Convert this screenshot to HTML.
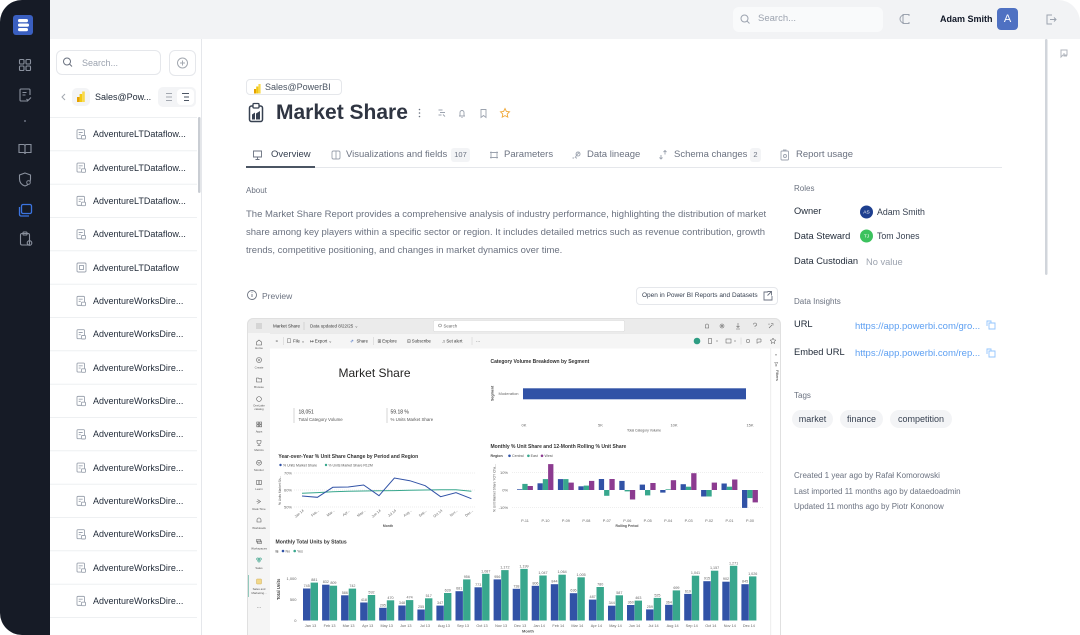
<!DOCTYPE html>
<html><head><meta charset="utf-8">
<style>
*{box-sizing:border-box;margin:0;padding:0}
body{width:1080px;height:635px;overflow:hidden;background:#fff;font-family:"Liberation Sans",Arial,sans-serif;position:relative;color:#1f2937}
.a{position:absolute}
.t{position:absolute;white-space:nowrap;line-height:14px}
svg text{font-family:"Liberation Sans",Arial,sans-serif}
</style></head><body>

<!-- backgrounds -->
<div class="a" style="left:0;top:0;width:50px;height:635px;background:#161b26;border-radius:22px 0 0 22px"></div>
<div class="a" style="left:50px;top:0;width:1030px;height:39px;background:#f2f3f5;border-top-right-radius:22px"></div>
<div class="a" style="left:201px;top:39px;width:1px;height:596px;background:#e5e7eb"></div>

<!-- top bar -->
<div class="a" style="left:733px;top:7px;width:150px;height:25px;background:#f9fafb;border-radius:6px"></div>
<div class="t" style="left:758px;top:12px;font-size:9.5px;color:#9ca3af">Search...</div>
<div class="t" style="left:940px;top:12px;font-size:9px;font-weight:bold;color:#111827">Adam Smith</div>
<div class="a" style="left:997px;top:8px;width:21px;height:22px;background:#4f71c2;border-radius:4px;color:#fff;font-size:11px;line-height:22px;text-align:center">A</div>

<!-- left panel -->
<div class="a" style="left:56px;top:50px;width:105px;height:25px;border:1px solid #e5e7eb;border-radius:6px"></div>
<div class="t" style="left:82px;top:55.5px;font-size:9px;color:#9ca3af">Search...</div>
<div class="a" style="left:169px;top:50px;width:27px;height:26px;border:1px solid #e5e7eb;border-radius:6px"></div>
<div class="a" style="left:72px;top:88px;width:18px;height:18px;background:#f3f4f6;border-radius:5px"></div>
<div class="t" style="left:95px;top:90px;font-size:9px;color:#1f2937">Sales@Pow...</div>
<div class="a" style="left:158px;top:87px;width:38px;height:20px;background:#f3f4f6;border-radius:5px"></div>
<div class="a" style="left:177px;top:89px;width:17px;height:16px;background:#fff;border-radius:4px"></div>

<div class="t" style="left:93px;top:127.2px;font-size:9px">AdventureLTDataflow...</div>
<div class="t" style="left:93px;top:160.5px;font-size:9px">AdventureLTDataflow...</div>
<div class="t" style="left:93px;top:193.8px;font-size:9px">AdventureLTDataflow...</div>
<div class="t" style="left:93px;top:227.2px;font-size:9px">AdventureLTDataflow...</div>
<div class="t" style="left:93px;top:260.5px;font-size:9px">AdventureLTDataflow</div>
<div class="t" style="left:93px;top:293.8px;font-size:9px">AdventureWorksDire...</div>
<div class="t" style="left:93px;top:327.2px;font-size:9px">AdventureWorksDire...</div>
<div class="t" style="left:93px;top:360.5px;font-size:9px">AdventureWorksDire...</div>
<div class="t" style="left:93px;top:393.8px;font-size:9px">AdventureWorksDire...</div>
<div class="t" style="left:93px;top:427.2px;font-size:9px">AdventureWorksDire...</div>
<div class="t" style="left:93px;top:460.5px;font-size:9px">AdventureWorksDire...</div>
<div class="t" style="left:93px;top:493.8px;font-size:9px">AdventureWorksDire...</div>
<div class="t" style="left:93px;top:527.2px;font-size:9px">AdventureWorksDire...</div>
<div class="t" style="left:93px;top:560.5px;font-size:9px">AdventureWorksDire...</div>
<div class="t" style="left:93px;top:593.8px;font-size:9px">AdventureWorksDire...</div>

<!-- main header -->
<div class="a" style="left:246px;top:79px;width:96px;height:16px;border:1px solid #e5e7eb;border-radius:4px"></div>
<div class="t" style="left:265px;top:80px;font-size:9px;color:#4b5563">Sales@PowerBI</div>
<div class="t" style="left:276px;top:101px;font-size:21px;line-height:24px;font-weight:bold;color:#2f3542">Market Share</div>

<div class="t" style="left:271px;top:148px;font-size:9.5px;color:#374151">Overview</div>
<div class="t" style="left:346px;top:148px;font-size:9.5px;color:#6b7280">Visualizations and fields</div>
<div class="a" style="left:451px;top:148px;width:19px;height:14px;background:#f3f4f6;border-radius:3px;font-size:7.5px;line-height:14px;text-align:center;color:#6b7280">107</div>
<div class="t" style="left:504px;top:148px;font-size:9.5px;color:#6b7280">Parameters</div>
<div class="t" style="left:587px;top:148px;font-size:9.5px;color:#6b7280">Data lineage</div>
<div class="t" style="left:674px;top:148px;font-size:9.5px;color:#6b7280">Schema changes</div>
<div class="a" style="left:750px;top:148px;width:11px;height:14px;background:#f3f4f6;border-radius:3px;font-size:7.5px;line-height:14px;text-align:center;color:#6b7280">2</div>
<div class="t" style="left:796px;top:148px;font-size:9.5px;color:#6b7280">Report usage</div>
<div class="a" style="left:246px;top:167px;width:756px;height:1px;background:#e5e7eb"></div>
<div class="a" style="left:246px;top:165.5px;width:69px;height:2px;background:#4b5563"></div>

<div class="t" style="left:246px;top:184px;font-size:8px;color:#6b7280">About</div>
<div class="t" style="left:246px;top:208px;font-size:9.5px;color:#6b7280">The Market Share Report provides a comprehensive analysis of industry performance, highlighting the distribution of market</div>
<div class="t" style="left:246px;top:226px;font-size:9.5px;color:#6b7280">share among key players within a specific sector or region. It includes detailed metrics such as revenue contribution, growth</div>
<div class="t" style="left:246px;top:244px;font-size:9.5px;color:#6b7280">trends, competitive positioning, and changes in market dynamics over time.</div>

<div class="t" style="left:262px;top:288.5px;font-size:8.5px;color:#6b7280">Preview</div>
<div class="a" style="left:636px;top:287px;width:142px;height:18px;border:1px solid #e5e7eb;border-radius:4px"></div>
<div class="t" style="left:642px;top:289px;font-size:6.5px;color:#374151">Open in Power BI Reports and Datasets</div>

<!-- right panel -->
<div class="t" style="left:794px;top:182px;font-size:8px;color:#6b7280">Roles</div>
<div class="t" style="left:794px;top:203.5px;font-size:9.3px">Owner</div>
<div class="t" style="left:877px;top:205px;font-size:8.8px;color:#374151">Adam Smith</div>
<div class="t" style="left:794px;top:229px;font-size:9.3px">Data Steward</div>
<div class="t" style="left:877px;top:229px;font-size:8.8px;color:#374151">Tom Jones</div>
<div class="t" style="left:794px;top:254px;font-size:9.3px">Data Custodian</div>
<div class="t" style="left:866px;top:255px;font-size:9.3px;color:#9ca3af">No value</div>
<div class="t" style="left:794px;top:295.3px;font-size:8px;color:#6b7280">Data Insights</div>
<div class="t" style="left:794px;top:317px;font-size:9.3px">URL</div>
<div class="t" style="left:855px;top:319.5px;font-size:9.5px;color:#5ea0f2">https://app.powerbi.com/gro...</div>
<div class="t" style="left:794px;top:345px;font-size:9.3px">Embed URL</div>
<div class="t" style="left:855px;top:347px;font-size:9.5px;color:#5ea0f2">https://app.powerbi.com/rep...</div>
<div class="t" style="left:794px;top:388.7px;font-size:8px;color:#6b7280">Tags</div>
<div class="a" style="left:792px;top:410px;width:41px;height:18px;background:#f3f4f6;border-radius:9px;font-size:9px;line-height:18px;text-align:center;color:#374151">market</div>
<div class="a" style="left:840px;top:410px;width:43px;height:18px;background:#f3f4f6;border-radius:9px;font-size:9px;line-height:18px;text-align:center;color:#374151">finance</div>
<div class="a" style="left:890px;top:410px;width:62px;height:18px;background:#f3f4f6;border-radius:9px;font-size:9px;line-height:18px;text-align:center;color:#374151">competition</div>
<div class="t" style="left:794px;top:468.7px;font-size:8px;color:#6b7280">Created 1 year ago by Rafał Komorowski</div>
<div class="t" style="left:794px;top:484.7px;font-size:8px;color:#6b7280">Last imported 11 months ago by dataedoadmin</div>
<div class="t" style="left:794px;top:499.7px;font-size:8px;color:#6b7280">Updated 11 months ago by Piotr Kononow</div>

<!-- full page svg: icons, lines, preview -->
<svg class="a" style="left:0;top:0" width="1080" height="635" viewBox="0 0 1080 635">
<!-- sidebar -->
<rect x="13" y="15" width="20" height="20" rx="3" fill="#3a5fc0"/>
<rect x="18" y="19" width="10" height="3.2" rx="1.6" fill="#fff"/>
<rect x="18" y="23.5" width="11" height="3.2" rx="1.6" fill="#fff"/>
<rect x="18" y="28" width="10" height="3.2" rx="1.6" fill="#fff"/>
<g fill="none" stroke="#8a919e" stroke-width="1.1">
<rect x="19.5" y="59.5" width="4.5" height="4.5" rx="1"/><rect x="26" y="59.5" width="4.5" height="4.5" rx="1"/>
<rect x="19.5" y="66" width="4.5" height="4.5" rx="1"/><rect x="26" y="66" width="4.5" height="4.5" rx="1"/>
<path d="M28 101 h-7 a1 1 0 0 1 -1 -1 v-10 a1 1 0 0 1 1 -1 h8 a1 1 0 0 1 1 1 v5"/><path d="M22.5 92.5 h4 M22.5 95 h3"/><path d="M26.5 99 l1.5 1.5 l3 -3"/>
<path d="M19 144.5 h4.5 a1.5 1.5 0 0 1 1.5 1.5 v8 a1.5 1.5 0 0 0 -1.5 -1.5 h-4.5 z M31 144.5 h-4.5 a1.5 1.5 0 0 0 -1.5 1.5 v8 a1.5 1.5 0 0 1 1.5 -1.5 h4.5 z"/>
<path d="M25 173 l5.5 2 v4 c0 4 -2.5 6 -5.5 7 c-3 -1 -5.5 -3 -5.5 -7 v-4 z"/>
<rect x="20.5" y="233.5" width="9" height="11.5" rx="1.5"/><rect x="23" y="232" width="4" height="3" rx="0.8"/><circle cx="29.5" cy="243" r="2.3"/>
</g>
<circle cx="28.5" cy="182.5" r="1.8" fill="#161b26" stroke="#8a919e" stroke-width="0.9"/>
<circle cx="25" cy="121" r="1" fill="#6b7280"/>
<g fill="none" stroke="#3b74e0" stroke-width="1.3"><rect x="21.5" y="204.5" width="10" height="9" rx="1.5"/><path d="M19.5 207 v7.5 a1.5 1.5 0 0 0 1.5 1.5 h8"/></g>

<!-- topbar icons -->
<g fill="none" stroke="#9ca3af" stroke-width="1">
<circle cx="744.5" cy="18.5" r="3.5"/><path d="M747 21 l2.5 2.5"/>
<path d="M909 16 v-1.5 h-6 v9 h6 v-1.5 M904 15 a4 4 0 0 0 0 8"/>
<path d="M1052 15 h-5 v9 h5 M1050 19.5 h6 M1054 17.5 l2 2 l-2 2"/>
<path d="M1061 50 h6 v5 h-4 l-2 2 z M1064 53 v3 h3" stroke="#b0b5bd"/>
</g>
<rect x="1045" y="39" width="2.5" height="236" rx="1.2" fill="#d1d5db"/>

<!-- left panel icons -->
<g fill="none" stroke="#6b7280" stroke-width="1"><circle cx="67" cy="61.5" r="3.5"/><path d="M69.5 64 l2.5 2.5"/></g>
<g fill="none" stroke="#a3a8b0" stroke-width="1"><circle cx="182.5" cy="63" r="5"/><path d="M182.5 60.5 v5 M180 63 h5"/><path d="M65 94 l-3 3 l3 3"/>
<path d="M166 93.5 h6 M166 97 h6 M166 100.5 h6"/></g>
<g fill="none" stroke="#4b5563" stroke-width="1"><path d="M182 93.5 h7 M184 97 h5 M184 100.5 h5"/></g>
<rect x="77" y="97" width="2.6" height="5" fill="#e6a100"/><rect x="79.6" y="94" width="2.6" height="8" fill="#f2c811"/><rect x="82.2" y="91.5" width="2.6" height="10.5" fill="#f8d84a"/>
<rect x="198" y="117" width="2.5" height="76" rx="1.2" fill="#c9cdd3"/>
<g stroke="#eef0f2" stroke-width="1">
<path d="M50 117.5 H197 M50 150.8 H197 M50 184.2 H197 M50 217.5 H197 M50 250.8 H197 M50 284.2 H197 M50 317.5 H197 M50 350.8 H197 M50 384.2 H197 M50 417.5 H197 M50 450.8 H197 M50 484.2 H197 M50 517.5 H197 M50 550.8 H197 M50 584.2 H197 M50 617.5 H197"/>
</g>
<g fill="none" stroke="#9ca3af" stroke-width="0.9">
<g id="li"><rect x="77" y="129.7" width="7.5" height="9" rx="1"/><path d="M78.7 132.5 h4 M78.7 134.7 h2"/><rect x="81.5" y="135.5" width="4" height="3.5" rx="0.6" fill="#fff"/></g>
<use href="#li" y="33.33"/><use href="#li" y="66.67"/><use href="#li" y="100"/>
<rect x="77" y="263" width="9" height="9" rx="1.2"/><rect x="79.5" y="265.5" width="4" height="4"/>
<use href="#li" y="166.67"/><use href="#li" y="200"/><use href="#li" y="233.33"/><use href="#li" y="266.67"/><use href="#li" y="300"/>
<use href="#li" y="333.33"/><use href="#li" y="366.67"/><use href="#li" y="400"/><use href="#li" y="433.33"/><use href="#li" y="466.67"/>
</g>

<!-- main icons -->
<rect x="254" y="89" width="2.2" height="4.5" fill="#e6a100"/><rect x="256.2" y="86.5" width="2.2" height="7" fill="#f2c811"/><rect x="258.4" y="84" width="2.2" height="9.5" fill="#f8d84a"/>
<g fill="none" stroke="#374151" stroke-width="1.5"><rect x="249.5" y="106" width="13" height="15.5" rx="2"/></g>
<rect x="253" y="103.5" width="6" height="4.5" rx="1" fill="#fff" stroke="#374151" stroke-width="1.3"/>
<path d="M252 119.5 v-5 l3 -2 v7 z M256 119.5 v-6 l4 -2.5 v8.5 z" fill="#374151"/>
<g fill="#6b7280"><circle cx="419.5" cy="109.5" r="0.8"/><circle cx="419.5" cy="113" r="0.8"/><circle cx="419.5" cy="116.5" r="0.8"/></g>
<g fill="none" stroke="#9ca3af" stroke-width="0.9">
<path d="M438.5 110 h4 M440 112.5 h5 M438.5 115 h3 M443 114.5 l2 2"/>
<path d="M459 116 h6 M460 116 v-3.5 a2 2 0 0 1 4 0 v3.5 M461.5 117.5 h1"/>
<path d="M481 109.5 h5 v8 l-2.5 -2 l-2.5 2 z"/>
<path d="M505 108.5 l1.4 2.9 l3.1 0.4 l-2.3 2.2 l0.6 3.1 l-2.8 -1.5 l-2.8 1.5 l0.6 -3.1 l-2.3 -2.2 l3.1 -0.4 z" stroke="#f0a93a"/>
<!-- tab icons -->
<path d="M253.5 151 h8 v6 h-8 z M257.5 157 v2 M255.5 159.5 h4" stroke="#6b7280"/>
<rect x="332" y="151" width="8" height="8" rx="1.5"/><path d="M336 151 v8"/>
<path d="M491 151.5 v7 M497 151.5 v7 M490 152.5 h8 M490 157.5 h8"/>
<path d="M572.5 158 h1.5 M576 158 h1 M578 156 a2 2 0 1 1 0.1 0 M575 158 q2 -4 4 -5"/>
<path d="M661 159 v-4 M659.5 157.5 l1.5 1.5 l1.5 -1.5 M665 150.5 v4 M663.5 152 l1.5 -1.5 l1.5 1.5"/>
<rect x="781" y="151" width="7.5" height="9" rx="1"/><path d="M783 150 h3.5"/><circle cx="785" cy="156" r="1.5"/>
<circle cx="252" cy="295" r="4.5" stroke="#6b7280"/><path d="M252 294 v3" stroke="#6b7280"/>
<path d="M768 292 h-4 v8 h8 v-4 M767.5 291.5 h4 v4 M771.5 291.5 l-4 4" stroke="#6b7280"/>
<path d="M989 323 h6 v6 h-6 z M991 323 v-2 h-4 v5" stroke="#93c5fd"/>
<path d="M989 351 h6 v6 h-6 z M991 351 v-2 h-4 v5" stroke="#93c5fd"/>
</g>
<g fill="#9ca3af"><circle cx="252" cy="292.2" r="0.5" fill="#6b7280"/></g>
<circle cx="866.5" cy="212" r="6.5" fill="#1e3f8f"/><text x="866.5" y="213.7" font-size="4.8" fill="#fff" text-anchor="middle">AS</text>
<circle cx="866.5" cy="236" r="6.5" fill="#3cc25e"/><text x="866.5" y="237.7" font-size="4.8" fill="#fff" text-anchor="middle">TJ</text>

<!-- ===== Power BI preview ===== -->
<clipPath id="pc"><rect x="247" y="318" width="534" height="330" rx="6"/></clipPath>
<g clip-path="url(#pc)">
<rect x="247" y="318" width="534" height="330" fill="#f5f5f5"/>
<rect x="247" y="318" width="534" height="15" fill="#ebebeb"/>
<rect x="270" y="348.5" width="500.5" height="300" fill="#fff"/>
<rect x="771" y="348.5" width="10" height="300" fill="#fff"/>
<line x1="770.8" y1="348.5" x2="770.8" y2="640" stroke="#e1e1e1" stroke-width="0.6"/>
<line x1="270" y1="333.5" x2="781" y2="333.5" stroke="#dedede" stroke-width="0.5"/>
<g fill="#777"><circle cx="257" cy="324" r="0.5"/><circle cx="259" cy="324" r="0.5"/><circle cx="261" cy="324" r="0.5"/><circle cx="257" cy="326" r="0.5"/><circle cx="259" cy="326" r="0.5"/><circle cx="261" cy="326" r="0.5"/><circle cx="257" cy="328" r="0.5"/><circle cx="259" cy="328" r="0.5"/><circle cx="261" cy="328" r="0.5"/></g>
<text x="273" y="327.6" font-size="4.5" fill="#333">Market Share</text>
<line x1="304" y1="322" x2="304" y2="330" stroke="#bbb" stroke-width="0.5"/>
<text x="310" y="327.6" font-size="4.5" fill="#444">Data updated 8/22/25 ⌄</text>
<rect x="433.5" y="320.5" width="191" height="11" rx="1.5" fill="#fff" stroke="#d6d6d6" stroke-width="0.5"/>
<circle cx="440" cy="325.5" r="1.5" fill="none" stroke="#666" stroke-width="0.5"/>
<text x="443.5" y="327.4" font-size="4.3" fill="#666">Search</text>
<g fill="none" stroke="#666" stroke-width="0.55">
<path d="M705 328 h4 M705.5 328 v-2.5 a1.5 1.5 0 0 1 3 0 v2.5"/>
<circle cx="722" cy="326" r="2"/><circle cx="722" cy="326" r="0.8"/>
<path d="M738 323 v4.5 M736.5 326 l1.5 1.5 l1.5 -1.5 M736 329 h4"/>
<path d="M753.5 324.5 a1.5 1.5 0 1 1 1.5 1.5 v1 M755 328.5 v0.3"/>
<path d="M769 328 l3 -3 M771 323.5 h2 v2 M769 325 v-1.5"/>
</g>
<!-- toolbar -->
<g font-size="4.3" fill="#333">
<text x="275.5" y="342.5">»</text>
<line x1="283.5" y1="337" x2="283.5" y2="345" stroke="#ccc" stroke-width="0.5"/>
<rect x="287.5" y="338.8" width="3" height="4" fill="none" stroke="#555" stroke-width="0.4"/>
<text x="293" y="342.6">File  ⌄</text>
<text x="310" y="342.6">↦ Export  ⌄</text>
<text x="350" y="342.6" fill="#3a67c2">⇗</text>
<text x="356.5" y="342.6">Share</text>
<line x1="373.5" y1="337" x2="373.5" y2="345" stroke="#ccc" stroke-width="0.5"/>
<text x="377.5" y="342.6">⊞ Explore</text>
<text x="407" y="342.6">⊟ Subscribe</text>
<text x="442" y="342.6">♫ Set alert</text>
<line x1="472" y1="337" x2="472" y2="345" stroke="#ccc" stroke-width="0.5"/>
<text x="476" y="342.6">···</text>
</g>
<circle cx="697" cy="341" r="3.3" fill="#2e9d83"/>
<g fill="none" stroke="#555" stroke-width="0.5">
<rect x="708.5" y="338.5" width="3" height="5"/><path d="M716 340.5 l1 1 l1 -1"/>
<rect x="726" y="339" width="5" height="4"/><path d="M734 340.5 l1 1 l1 -1"/>
<path d="M741 337.5 v7" stroke="#ccc"/>
<circle cx="748" cy="341" r="1.8"/><path d="M757 339 h4 v3 h-2.5 l-1.5 1.5 z"/>
<path d="M773 338 l0.9 1.9 l2 0.2 l-1.5 1.4 l0.4 2 l-1.8 -1 l-1.8 1 l0.4 -2 l-1.5 -1.4 l2 -0.2 z"/>
</g>
<!-- left nav -->
<g fill="none" stroke="#555" stroke-width="0.55">
<path d="M256.5 342 l2.5 -2 l2.5 2 v3 h-5 z"/>
<circle cx="259" cy="360" r="2.5"/><path d="M259 358.8 v2.4 M257.8 360 h2.4"/>
<path d="M256.5 378 h2 l0.6 0.8 h2.6 v3.2 h-5.2 z"/>
<circle cx="259" cy="399" r="2.4"/>
<path d="M256.8 422 h2 v2 h-2 z M259.6 422 h2 v2 h-2 z M256.8 424.8 h2 v2 h-2 z M259.6 424.8 h2 v2 h-2 z"/>
<path d="M257 440.5 h4 v1.5 a2 2 0 0 1 -4 0 z M259 443.8 v1.5 M257.5 445.5 h3"/>
<circle cx="259" cy="462.7" r="2.4"/><path d="M257.6 462 l1.4 1.4 l1.6 -1.6"/>
<path d="M256.5 480.5 h2.4 v3.8 h-2.4 z M259.1 480.5 h2.4 v3.8 h-2.4 z"/>
<path d="M257.5 499.5 l3 2 l-3 2 M256.5 501.5 h2"/>
<path d="M257 520 a2 2 0 0 1 4 0 v2 h-4 z"/>
<path d="M256.5 539.5 h4 v2.5 h-4 z M257.5 541 h4 v2.5 h-4 z"/>
</g>
<g fill="none" stroke="#2e9d83" stroke-width="0.6"><circle cx="257.8" cy="559" r="1.1"/><circle cx="260.2" cy="559" r="1.1"/><circle cx="259" cy="561" r="1.1"/></g>
<rect x="247" y="575" width="1.5" height="22" fill="#2e9d83"/>
<rect x="256.5" y="579" width="5" height="5" rx="0.6" fill="#f2d98a" stroke="#c9a040" stroke-width="0.4"/>
<g font-size="2.9" fill="#555" text-anchor="middle">
<text x="259" y="349">Home</text><text x="259" y="368.7">Create</text><text x="259" y="388">Browse</text>
<text x="259" y="406.5">OneLake</text><text x="259" y="410">catalog</text>
<text x="259" y="432.5">Apps</text><text x="259" y="451">Metrics</text><text x="259" y="471">Monitor</text>
<text x="259" y="490">Learn</text><text x="259" y="510">Real-Time</text><text x="259" y="529">Workloads</text>
<text x="259" y="549.5">Workspaces</text><text x="259" y="569">Sales</text>
<text x="259" y="590">Sales and</text><text x="259" y="594">Marketing...</text>
<text x="259" y="609" font-size="5">···</text>
</g>
<!-- filters strip -->
<text x="776" y="356" font-size="4" fill="#555" text-anchor="middle">«</text>
<path d="M774.5 362.5 h3.5 l-1.3 1.6 v1.8 l-0.9 0.4 v-2.2 z" fill="none" stroke="#555" stroke-width="0.4"/>
<text transform="translate(776 370) rotate(90)" font-size="4" fill="#333">Filters</text>

<!-- Market Share title and KPIs -->
<text x="338.5" y="377.2" font-size="12" fill="#252423">Market Share</text>
<line x1="294" y1="408" x2="294" y2="423" stroke="#bbb" stroke-width="0.6"/>
<text x="298.5" y="413.5" font-size="5" fill="#333">18,051</text>
<text x="298.5" y="421" font-size="4.4" fill="#555">Total Category Volume</text>
<line x1="387" y1="408" x2="387" y2="423" stroke="#bbb" stroke-width="0.6"/>
<text x="390.5" y="413.5" font-size="5" fill="#333">59.18 %</text>
<text x="390.5" y="421" font-size="4.4" fill="#555">% Units Market Share</text>

<!-- Category volume -->
<text x="490.5" y="362.8" font-size="5" font-weight="bold" fill="#333">Category Volume Breakdown by Segment</text>
<text transform="translate(493.5 401) rotate(-90)" font-size="3.6" font-weight="bold" fill="#444">Segment</text>
<text x="498.5" y="395.2" font-size="4" fill="#666">Moderation</text>
<rect x="523" y="388.3" width="223" height="11" fill="#3152a6"/>
<g font-size="4" fill="#666" text-anchor="middle"><text x="524" y="426.5">0K</text><text x="600.5" y="426.5">5K</text><text x="674" y="426.5">10K</text><text x="750" y="426.5">15K</text></g>
<text x="644" y="431.5" font-size="3.4" fill="#555" text-anchor="middle">Total Category Volume</text>

<!-- Clustered column chart -->
<text x="490.5" y="448" font-size="5" font-weight="bold" fill="#333">Monthly % Unit Share and 12-Month Rolling % Unit Share</text>
<text x="490.5" y="457.2" font-size="3.6" font-weight="bold" fill="#444">Region</text>
<circle cx="509.5" cy="455.8" r="1.3" fill="#3152a6"/><text x="512" y="457.2" font-size="3.6" fill="#555">Central</text>
<circle cx="528.4" cy="455.8" r="1.3" fill="#38a78d"/><text x="530.6" y="457.2" font-size="3.6" fill="#555">East</text>
<circle cx="542" cy="455.8" r="1.3" fill="#8c3b90"/><text x="544.5" y="457.2" font-size="3.6" fill="#555">West</text>
<text transform="translate(495.5 512) rotate(-90)" font-size="3.3" fill="#555">% Unit Market Share YOY Cha...</text>
<g stroke="#ddd" stroke-width="0.5" stroke-dasharray="1 1"><path d="M512 472.5 H763 M512 507.5 H763"/></g>
<g font-size="4" fill="#666" text-anchor="end"><text x="508" y="474">10%</text><text x="508" y="491.5">0%</text><text x="508" y="509">-10%</text></g>
<g fill="#3152a6">
<rect x="517" y="489.3" width="5.3" height="0.7"/><rect x="537.5" y="483.3" width="5.3" height="6.7"/><rect x="557.9" y="479.1" width="5.3" height="10.9"/><rect x="578.4" y="486.3" width="5.3" height="3.7"/><rect x="598.8" y="479" width="5.3" height="11"/><rect x="619.3" y="480.9" width="5.3" height="9.1"/><rect x="639.7" y="484.6" width="5.3" height="5.4"/><rect x="660.2" y="490" width="5.3" height="2.6"/><rect x="680.6" y="484.2" width="5.3" height="5.8"/><rect x="701.1" y="490" width="5.3" height="6.5"/><rect x="721.5" y="483.5" width="5.3" height="6.5"/><rect x="742" y="490" width="5.3" height="17.9"/>
</g>
<g fill="#38a78d">
<rect x="522.3" y="483.9" width="5.3" height="6.1"/><rect x="542.8" y="479.1" width="5.3" height="10.9"/><rect x="563.2" y="479.1" width="5.3" height="10.9"/><rect x="583.7" y="485.6" width="5.3" height="4.4"/><rect x="604.1" y="490" width="5.3" height="5.8"/><rect x="624.6" y="490" width="5.3" height="1.4"/><rect x="645" y="490" width="5.3" height="5.4"/><rect x="665.5" y="489.3" width="5.3" height="0.7"/><rect x="685.9" y="486.7" width="5.3" height="3.3"/><rect x="706.4" y="490" width="5.3" height="6.5"/><rect x="726.8" y="486.7" width="5.3" height="3.3"/><rect x="747.3" y="490" width="5.3" height="8.1"/>
</g>
<g fill="#8c3b90">
<rect x="527.6" y="486" width="5.3" height="4"/><rect x="548.1" y="464.1" width="5.3" height="25.9"/><rect x="568.5" y="482.6" width="5.3" height="7.4"/><rect x="589" y="480.9" width="5.3" height="9.1"/><rect x="609.4" y="479" width="5.3" height="11"/><rect x="629.9" y="490" width="5.3" height="9.5"/><rect x="650.3" y="483" width="5.3" height="7"/><rect x="670.8" y="480.2" width="5.3" height="9.8"/><rect x="691.2" y="473.2" width="5.3" height="16.8"/><rect x="711.7" y="482.6" width="5.3" height="7.4"/><rect x="732.1" y="479.5" width="5.3" height="10.5"/><rect x="752.6" y="490" width="5.3" height="12.4"/>
</g>
<g font-size="3.8" fill="#666" text-anchor="middle">
<text x="525" y="522">P-11</text><text x="545.5" y="522">P-10</text><text x="565.9" y="522">P-09</text><text x="586.4" y="522">P-08</text><text x="606.8" y="522">P-07</text><text x="627.3" y="522">P-06</text><text x="647.7" y="522">P-05</text><text x="668.2" y="522">P-04</text><text x="688.6" y="522">P-03</text><text x="709.1" y="522">P-02</text><text x="729.5" y="522">P-01</text><text x="750" y="522">P-00</text>
</g>
<text x="627" y="527" font-size="3.4" font-weight="bold" fill="#555" text-anchor="middle">Rolling Period</text>

<!-- Line chart -->
<text x="278.4" y="457.8" font-size="5" font-weight="bold" fill="#333">Year-over-Year % Unit Share Change by Period and Region</text>
<circle cx="280.5" cy="465" r="1.2" fill="#3152a6"/><text x="283" y="466.3" font-size="3.5" fill="#555">% Units Market Share</text>
<circle cx="326" cy="465" r="1.2" fill="#38a78d"/><text x="328.4" y="466.3" font-size="3.5" fill="#555">% Units Market Share R12M</text>
<text transform="translate(281 505) rotate(-90)" font-size="3.2" fill="#555">% Units Market Sh...</text>
<g stroke="#ddd" stroke-width="0.5" stroke-dasharray="1 1"><path d="M294 473 H475 M294 490 H475 M294 507 H475"/></g>
<g font-size="4" fill="#666" text-anchor="end"><text x="292" y="474.5">70%</text><text x="292" y="491.5">60%</text><text x="292" y="508.5">50%</text></g>
<polyline fill="none" stroke="#38a78d" stroke-width="1" points="302,493.3 317.4,492.6 332.8,491.8 348.2,491.3 363.6,491 379,490.8 394.4,490.6 409.8,490.3 425.2,490 440.6,489.8 456,489.7 471.4,491.3"/>
<polyline fill="none" stroke="#3152a6" stroke-width="1" points="302,496 317.4,497.3 332.8,487.3 348.2,487 363.6,485 379,495.7 394.4,478 409.8,480.7 425.2,485.7 440.6,496.7 456,492.7 471.4,498.7"/>
<g font-size="3.6" fill="#666" text-anchor="end">
<text transform="translate(304 511) rotate(-40)">Jan 14</text><text transform="translate(319.4 511) rotate(-40)">Feb...</text><text transform="translate(334.8 511) rotate(-40)">Mar...</text><text transform="translate(350.2 511) rotate(-40)">Apr...</text><text transform="translate(365.6 511) rotate(-40)">May...</text><text transform="translate(381 511) rotate(-40)">Jun 14</text><text transform="translate(396.4 511) rotate(-40)">Jul 14</text><text transform="translate(411.8 511) rotate(-40)">Aug...</text><text transform="translate(427.2 511) rotate(-40)">Sep...</text><text transform="translate(442.6 511) rotate(-40)">Oct 14</text><text transform="translate(458 511) rotate(-40)">Nov...</text><text transform="translate(473.4 511) rotate(-40)">Dec...</text>
</g>
<text x="388" y="527" font-size="3.4" font-weight="bold" fill="#555" text-anchor="middle">Month</text>

<!-- Bottom bar chart -->
<text x="275.5" y="543.5" font-size="5.1" font-weight="bold" fill="#333">Monthly Total Units by Status</text>
<text x="275.5" y="552.3" font-size="3.6" font-weight="bold" fill="#444">Is</text>
<circle cx="283" cy="551" r="1.3" fill="#3152a6"/><text x="285.5" y="552.3" font-size="3.6" fill="#555">No</text>
<circle cx="294.7" cy="551" r="1.3" fill="#38a78d"/><text x="297" y="552.3" font-size="3.6" fill="#555">Yes</text>
<text transform="translate(280 600) rotate(-90)" font-size="4.2" font-weight="bold" fill="#444">Total Units</text>
<g font-size="4" fill="#666" text-anchor="end"><text x="296.5" y="579.8">1,000</text><text x="296.5" y="600.8">500</text><text x="296.5" y="622">0</text></g>
<g fill="#3152a6">
<rect x="303" y="588.5" width="7.4" height="32"/><rect x="322.1" y="584.7" width="7.4" height="35.8"/><rect x="341.1" y="595.3" width="7.4" height="25.2"/><rect x="360.2" y="602.5" width="7.4" height="18"/><rect x="379.2" y="607.8" width="7.4" height="12.7"/><rect x="398.3" y="605.5" width="7.4" height="15"/><rect x="417.4" y="609.5" width="7.4" height="11"/><rect x="436.4" y="605.6" width="7.4" height="14.9"/><rect x="455.5" y="591.2" width="7.4" height="29.3"/><rect x="474.5" y="587.3" width="7.4" height="33.2"/><rect x="493.6" y="579.4" width="7.4" height="41.1"/><rect x="512.7" y="588.8" width="7.4" height="31.7"/>
<rect x="531.7" y="585.8" width="7.4" height="34.7"/><rect x="550.8" y="584.2" width="7.4" height="36.3"/><rect x="569.8" y="593.2" width="7.4" height="27.3"/><rect x="588.9" y="599.6" width="7.4" height="20.9"/><rect x="608" y="605.7" width="7.4" height="14.8"/><rect x="627" y="605" width="7.4" height="15.5"/><rect x="646.1" y="609.4" width="7.4" height="11.1"/><rect x="665.1" y="604.8" width="7.4" height="15.7"/><rect x="684.2" y="593.9" width="7.4" height="26.6"/><rect x="703.3" y="581.2" width="7.4" height="39.3"/><rect x="722.3" y="581.7" width="7.4" height="38.8"/><rect x="741.4" y="584.2" width="7.4" height="36.3"/>
</g>
<g fill="#38a78d">
<rect x="310.6" y="582.6" width="7.4" height="37.9"/><rect x="329.7" y="585.7" width="7.4" height="34.8"/><rect x="348.7" y="588.6" width="7.4" height="31.9"/><rect x="367.8" y="595" width="7.4" height="25.5"/><rect x="386.8" y="600.3" width="7.4" height="20.2"/><rect x="405.9" y="600.1" width="7.4" height="20.4"/><rect x="425" y="598.3" width="7.4" height="22.2"/><rect x="444" y="593" width="7.4" height="27.5"/><rect x="463.1" y="579.4" width="7.4" height="41.1"/><rect x="482.1" y="573.8" width="7.4" height="46.7"/><rect x="501.2" y="570.1" width="7.4" height="50.4"/><rect x="520.3" y="568.9" width="7.4" height="51.6"/>
<rect x="539.3" y="575.5" width="7.4" height="45"/><rect x="558.4" y="574.7" width="7.4" height="45.8"/><rect x="577.4" y="577.3" width="7.4" height="43.2"/><rect x="596.5" y="587" width="7.4" height="33.5"/><rect x="615.6" y="595.3" width="7.4" height="25.2"/><rect x="634.6" y="600.6" width="7.4" height="19.9"/><rect x="653.7" y="597.9" width="7.4" height="22.6"/><rect x="672.7" y="590.4" width="7.4" height="30.1"/><rect x="691.8" y="575.7" width="7.4" height="44.8"/><rect x="710.9" y="570.7" width="7.4" height="49.8"/><rect x="729.9" y="565.8" width="7.4" height="54.7"/><rect x="749" y="576.4" width="7.4" height="44.1"/>
</g>
<g font-size="3.7" fill="#666" text-anchor="middle">
<text x="306.7" y="587">745</text><text x="325.8" y="583.2">832</text><text x="344.8" y="593.8">586</text><text x="363.9" y="601">418</text><text x="382.9" y="606.3">295</text><text x="402" y="604">348</text><text x="421.1" y="608">255</text><text x="440.1" y="604.1">347</text><text x="459.2" y="589.7">681</text><text x="478.2" y="585.8">773</text><text x="497.3" y="577.9">956</text><text x="516.4" y="587.3">738</text>
<text x="535.4" y="584.3">806</text><text x="554.5" y="582.7">844</text><text x="573.5" y="591.7">636</text><text x="592.6" y="598.1">487</text><text x="611.7" y="604.2">344</text><text x="630.7" y="603.5">360</text><text x="649.8" y="607.9">259</text><text x="668.8" y="603.3">364</text><text x="687.9" y="592.4">619</text><text x="707" y="579.7">915</text><text x="726" y="580.2">902</text><text x="745.1" y="582.7">845</text>
<text x="314.3" y="581.1">881</text><text x="333.4" y="584.2">809</text><text x="352.4" y="587.1">742</text><text x="371.5" y="593.5">592</text><text x="390.5" y="598.8">470</text><text x="409.6" y="598.6">474</text><text x="428.7" y="596.8">517</text><text x="447.7" y="591.5">639</text><text x="466.8" y="577.9">956</text><text x="485.8" y="572.3">1,087</text><text x="504.9" y="568.6">1,172</text><text x="524" y="567.4">1,199</text>
<text x="543" y="574">1,047</text><text x="562.1" y="573.2">1,064</text><text x="581.1" y="575.8">1,005</text><text x="600.2" y="585.5">780</text><text x="619.3" y="593.8">587</text><text x="638.3" y="599.1">463</text><text x="657.4" y="596.4">525</text><text x="676.4" y="588.9">699</text><text x="695.5" y="574.2">1,041</text><text x="714.6" y="569.2">1,157</text><text x="733.6" y="564.3">1,271</text><text x="752.7" y="574.9">1,026</text>
</g>
<g font-size="3.8" fill="#666" text-anchor="middle">
<text x="310.5" y="626.8">Jan 13</text><text x="329.6" y="626.8">Feb 13</text><text x="348.6" y="626.8">Mar 13</text><text x="367.7" y="626.8">Apr 13</text><text x="386.7" y="626.8">May 13</text><text x="405.8" y="626.8">Jun 13</text><text x="424.9" y="626.8">Jul 13</text><text x="443.9" y="626.8">Aug 13</text><text x="463" y="626.8">Sep 13</text><text x="482" y="626.8">Oct 13</text><text x="501.1" y="626.8">Nov 13</text><text x="520.2" y="626.8">Dec 13</text>
<text x="539.2" y="626.8">Jan 14</text><text x="558.3" y="626.8">Feb 14</text><text x="577.3" y="626.8">Mar 14</text><text x="596.4" y="626.8">Apr 14</text><text x="615.5" y="626.8">May 14</text><text x="634.5" y="626.8">Jun 14</text><text x="653.6" y="626.8">Jul 14</text><text x="672.6" y="626.8">Aug 14</text><text x="691.7" y="626.8">Sep 14</text><text x="710.8" y="626.8">Oct 14</text><text x="729.8" y="626.8">Nov 14</text><text x="748.9" y="626.8">Dec 14</text>
</g>
<text x="528" y="632.3" font-size="4" font-weight="bold" fill="#555" text-anchor="middle">Month</text>
</g>
<rect x="247.5" y="318.5" width="533" height="330" rx="6" fill="none" stroke="#e0e0e0" stroke-width="1"/>
</svg>
</body></html>
